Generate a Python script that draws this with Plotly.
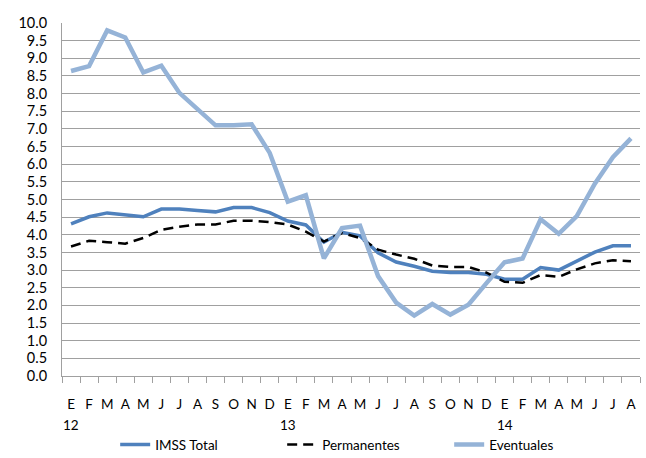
import plotly.graph_objects as go

months = ["E", "F", "M", "A", "M", "J", "J", "A", "S", "O", "N", "D",
          "E", "F", "M", "A", "M", "J", "J", "A", "S", "O", "N", "D",
          "E", "F", "M", "A", "M", "J", "J", "A"]
years = ["12", "12", "12", "12", "12", "12", "12", "12", "12", "12", "12", "12",
         "13", "13", "13", "13", "13", "13", "13", "13", "13", "13", "13", "13",
         "14", "14", "14", "14", "14", "14", "14", "14"]
year_labels = ["12", "13", "14"]

imss_total = [4.31, 4.51, 4.62, 4.56, 4.51, 4.73, 4.73, 4.69, 4.65, 4.77, 4.77, 4.63,
              4.39, 4.28, 3.79, 4.07, 3.97, 3.49, 3.23, 3.11, 2.97, 2.93, 2.93, 2.88,
              2.74, 2.74, 3.07, 3.00, 3.26, 3.51, 3.69, 3.69]
permanentes = [3.67, 3.83, 3.79, 3.75, 3.91, 4.14, 4.23, 4.29, 4.29, 4.40, 4.40, 4.36,
               4.29, 4.09, 3.81, 4.05, 3.91, 3.58, 3.44, 3.32, 3.13, 3.09, 3.09, 2.93,
               2.67, 2.64, 2.86, 2.81, 3.02, 3.19, 3.28, 3.25]
eventuales = [8.64, 8.78, 9.79, 9.59, 8.60, 8.79, 8.02, 7.57, 7.10, 7.10, 7.13, 6.32,
              4.94, 5.12, 3.33, 4.19, 4.26, 2.83, 2.08, 1.71, 2.04, 1.74, 2.02, 2.63,
              3.22, 3.33, 4.44, 4.03, 4.53, 5.45, 6.20, 6.73]

xpos = list(range(len(months)))

FONT = "Lato, 'Open Sans', sans-serif"

fig = go.Figure()
fig.add_trace(go.Scatter(x=xpos, y=imss_total, name="IMSS Total", mode="lines",
                         line=dict(color="#4F81BD", width=3.5)))
fig.add_trace(go.Scatter(x=xpos, y=permanentes, name="Permanentes", mode="lines",
                         line=dict(color="#000000", width=2.5, dash="10px,6px")))
fig.add_trace(go.Scatter(x=xpos, y=eventuales, name="Eventuales", mode="lines",
                         line=dict(color="#95B3D7", width=4.5)))

# year labels under first month of each year
for yl in year_labels:
    idx = years.index(yl)
    fig.add_annotation(x=xpos[idx], y=-0.139, xref="x", yref="paper", text=yl,
                       showarrow=False, yanchor="middle", xanchor="center",
                       font=dict(family=FONT, size=13.5, color="#000000"))

fig.update_layout(
    width=646, height=458,
    margin=dict(l=62, r=6, t=23, b=82, autoexpand=False),
    paper_bgcolor="white", plot_bgcolor="white",
    font=dict(family=FONT, size=13.5, color="#000000"),
    showlegend=True,
    legend=dict(orientation="h", x=0.092, xanchor="left", y=-0.195, yanchor="middle",
                font=dict(family=FONT, size=13.5, color="#000000"),
                entrywidth=122, bgcolor="rgba(0,0,0,0)"),
)
fig.update_xaxes(
    tickmode="array", tickvals=xpos, ticktext=months, automargin=False,
    ticks="", showgrid=False, showline=True, linecolor="#A0A0A0", linewidth=1,
    minor=dict(ticks="outside", ticklen=6, tickcolor="#A0A0A0", tickwidth=1,
               tick0=-0.5, dtick=1, showgrid=False),
    ticklabelstandoff=16, tickangle=0, zeroline=False,
    tickfont=dict(family=FONT, size=13.5, color="#000000"),
    range=[-0.5, len(months) - 0.5],
)
fig.update_yaxes(
    range=[0, 10], dtick=0.5, tick0=0, tickformat=".1f", automargin=False,
    showgrid=True, gridcolor="#A0A0A0", gridwidth=1,
    showline=True, linecolor="#A0A0A0", linewidth=1,
    ticks="", ticklabelstandoff=11, zeroline=False,
    tickfont=dict(family=FONT, size=14.5, color="#000000"),
)

fig.write_html("out.html",
               config={"displayModeBar": False},
               post_script="document.body.style.margin='0';document.body.style.padding='0';")
